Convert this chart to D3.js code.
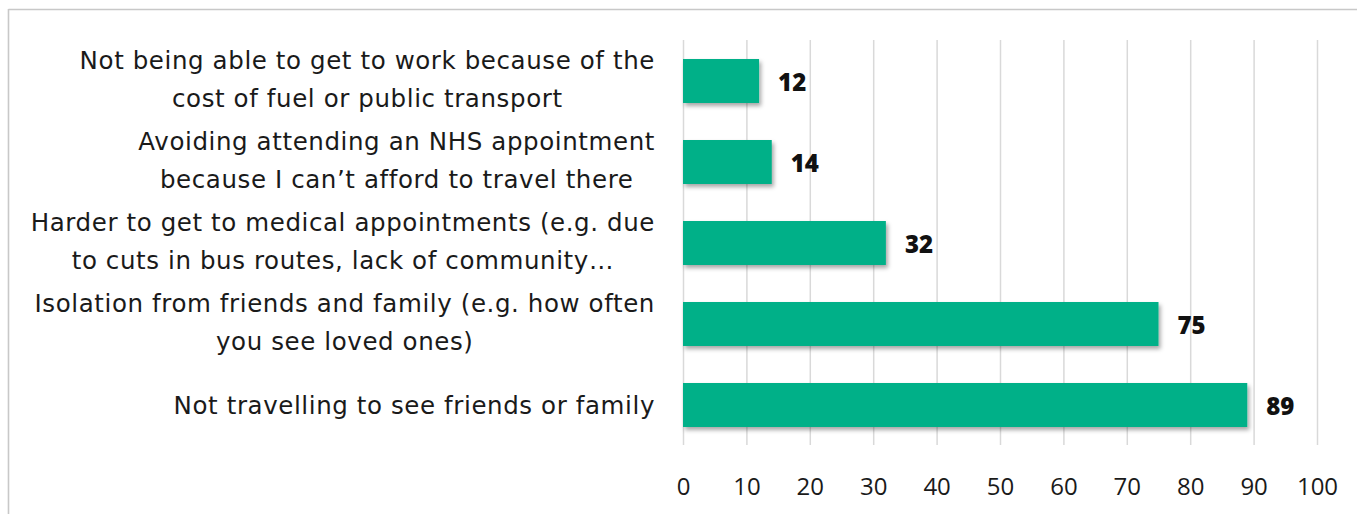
<!DOCTYPE html>
<html>
<head>
<meta charset="utf-8">
<script src="https://cdn.jsdelivr.net/npm/d3@7"></script>
<style>
  html, body { margin: 0; padding: 0; background: #fff; }
  svg { display: block; }
  text { font-family: "Open Sans", "Noto Sans", sans-serif; }
</style>
</head>
<body>
<svg id="chart" width="1357" height="514"></svg>
<script>
// Transport impacts reported by respondents (count of responses)
const categories = [
  ["Not being able to get to work because of the", "cost of fuel or public transport"],
  ["Avoiding attending an NHS appointment", "because I can\u2019t afford to travel there"],
  ["Harder to get to medical appointments (e.g. due", "to cuts in bus routes, lack of community\u2026"],
  ["Isolation from friends and family (e.g. how often", "you see loved ones)"],
  ["Not travelling to see friends or family"]
];
const values = [12, 14, 32, 75, 89];
const tickValues = [0, 10, 20, 30, 40, 50, 60, 70, 80, 90, 100];

const W = 1357, H = 514;
const svg = d3.select("#chart");

// frame around the chart area
svg.append("line").attr("x1", 8.5).attr("x2", W).attr("y1", 9.5).attr("y2", 9.5)
  .attr("stroke", "#c8c8c8").attr("stroke-width", 1.6);
svg.append("line").attr("x1", 8.5).attr("x2", 8.5).attr("y1", 9).attr("y2", H)
  .attr("stroke", "#c8c8c8").attr("stroke-width", 1.6);

const x = d3.scaleLinear().domain([0, 100]).range([683, 1317]);
const idx = d3.range(categories.length);
const y = d3.scaleBand().domain(idx).range([40.5, 445.5])
  .paddingInner(0.457).paddingOuter(0.2285);

// soft shadow under the bars
const defs = svg.append("defs");
const f = defs.append("filter").attr("id", "shadow")
  .attr("x", "-5%").attr("y", "-30%").attr("width", "115%").attr("height", "170%");
f.append("feDropShadow").attr("dx", 2).attr("dy", 3).attr("stdDeviation", 2.2)
  .attr("flood-color", "#000").attr("flood-opacity", 0.35);

// vertical gridlines + tick labels
const axis = d3.axisBottom(x).tickValues(tickValues).tickSize(-405).tickPadding(33)
  .tickFormat(d3.format("d"));
const gAxis = svg.append("g").attr("transform", "translate(0,445)").call(axis);
gAxis.select(".domain").remove();
gAxis.selectAll(".tick line").attr("stroke", "#d9d9d9").attr("stroke-width", 1.5);
gAxis.selectAll(".tick text").attr("fill", "#1a1a1a")
  .style("font-size", "24px").style("font-family", "\"Open Sans\", sans-serif");

// bars
svg.append("g").selectAll("rect").data(idx).join("rect")
  .attr("x", x(0))
  .attr("y", i => y(i))
  .attr("width", i => x(values[i]) - x(0))
  .attr("height", y.bandwidth())
  .attr("fill", "#02b088")
  .attr("filter", "url(#shadow)");

// value labels
svg.append("g").selectAll("text").data(idx).join("text")
  .attr("x", i => x(values[i]) + 19)
  .attr("y", i => y(i) + y.bandwidth() / 2)
  .attr("dominant-baseline", "central")
  .attr("fill", "#111")
  .style("font-size", "24px").style("font-weight", 800)
  .text(i => values[i]);

// category labels: lines centred on each other, block right-aligned
const labelRight = 655, lineH = 38;
const gLab = svg.append("g");
idx.forEach(i => {
  const lines = categories[i];
  const cy = y(i) + y.bandwidth() / 2;
  const t = gLab.append("text")
    .attr("fill", "#1a1a1a")
    .attr("text-anchor", "middle")
    .attr("dominant-baseline", "central")
    .style("font-family", "\"DejaVu Sans\", sans-serif")
    .style("font-size", "24.5px")
    .style("letter-spacing", "0.6px");
  const spans = lines.map((ln, k) => t.append("tspan")
    .attr("y", cy + (k - (lines.length - 1) / 2) * lineH - (lines.length > 1 ? 2 : 0))
    .text(ln));
  const maxW = d3.max(spans, s => s.node().getComputedTextLength());
  spans.forEach(s => s.attr("x", labelRight - maxW / 2));
});
</script>
</body>
</html>
